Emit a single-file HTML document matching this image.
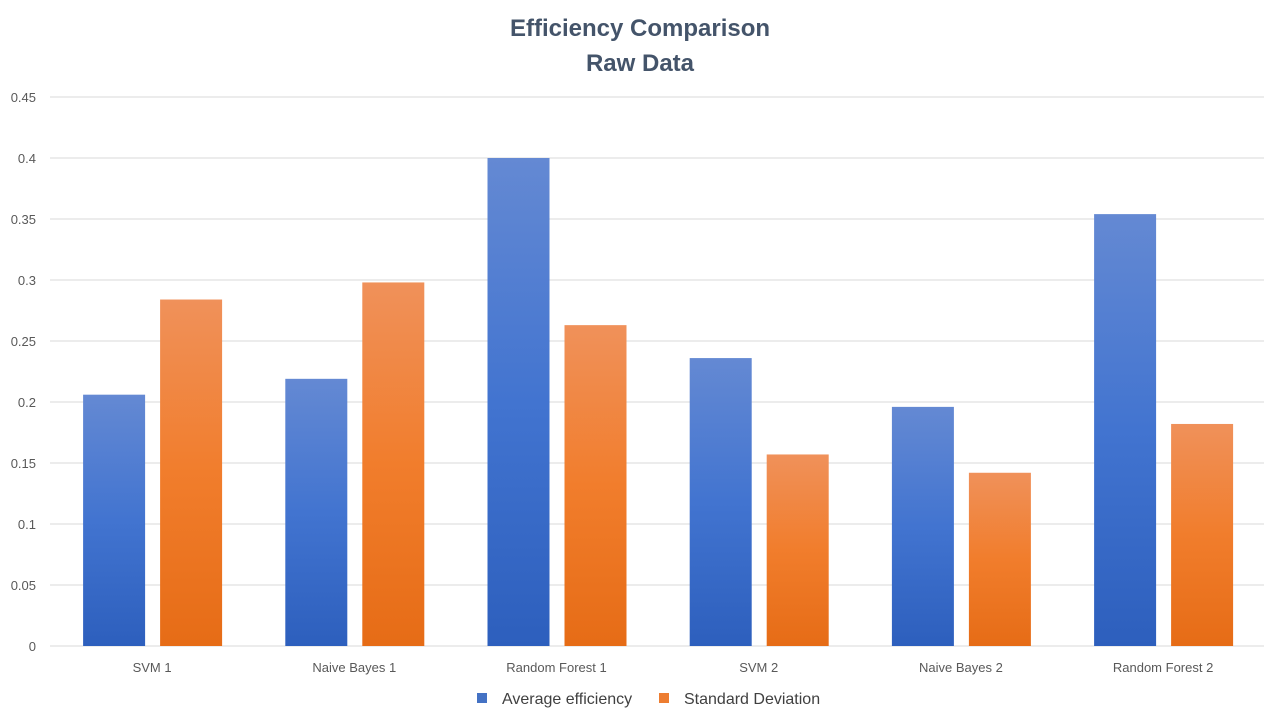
<!DOCTYPE html>
<html><head><meta charset="utf-8"><style>
body{margin:0;background:#fff;}
svg{display:block;font-family:"Liberation Sans",sans-serif;}
</style></head><body>
<svg id="c" width="1280" height="720">
<defs>
<linearGradient id="gb" x1="0" y1="0" x2="0" y2="1"><stop offset="0" stop-color="#6489d3"/><stop offset="0.5" stop-color="#4274d0"/><stop offset="1" stop-color="#2d5fbd"/></linearGradient>
<linearGradient id="go" x1="0" y1="0" x2="0" y2="1"><stop offset="0" stop-color="#f0915a"/><stop offset="0.5" stop-color="#f17d2c"/><stop offset="1" stop-color="#e66c16"/></linearGradient>
</defs>
<text x="640" y="36" text-anchor="middle" font-size="24" font-weight="bold" fill="#44546a">Efficiency Comparison</text>
<text x="640" y="71" text-anchor="middle" font-size="24" font-weight="bold" fill="#44546a">Raw Data</text>
<g id="grid"></g><g id="bars"></g><g id="xl"></g>
<rect x="477" y="693" width="10" height="10" fill="#4472c4"/>
<text x="502" y="704" font-size="16" fill="#404040">Average efficiency</text>
<rect x="659" y="693" width="10" height="10" fill="#ed7d31"/>
<text x="684" y="704" font-size="16" fill="#404040">Standard Deviation</text>
</svg>
<script>
const categories=["SVM 1","Naive Bayes 1","Random Forest 1","SVM 2","Naive Bayes 2","Random Forest 2"];
const avgEfficiency=[0.206,0.219,0.400,0.236,0.196,0.354];
const stdDeviation=[0.284,0.298,0.263,0.157,0.142,0.182];
const yTicks=[0,0.05,0.1,0.15,0.2,0.25,0.3,0.35,0.4,0.45];
const ns="http://www.w3.org/2000/svg";
const x0=48,x1=1264,yB=646,yT=97,yMax=0.45;
const y=v=>yB-(v/yMax)*(yB-yT);
const bw=202.2;
function mk(t,a,p){const e=document.createElementNS(ns,t);for(const k in a)e.setAttribute(k,a[k]);p.appendChild(e);return e;}
const g=document.getElementById('grid');
yTicks.forEach(v=>{
 const l=mk('line',{x1:50,x2:x1,y1:y(v),y2:y(v),stroke:'#d9d9d9','stroke-width':1},g);
 
 
 const t=mk('text',{x:36,y:y(v)+5,'text-anchor':'end','font-size':13,fill:'#595959'},g);
 t.textContent=String(v);
 
 
});
const b=document.getElementById('bars'),xl=document.getElementById('xl');
categories.forEach((c,i)=>{
 const cx=x0+bw*(i+0.5);
 const r1=mk('rect',{x:cx-66,y:y(avgEfficiency[i]),width:62,height:yB-y(avgEfficiency[i]),fill:'url(#gb)'},b);
 
 
 const r2=mk('rect',{x:cx+11,y:y(stdDeviation[i]),width:62,height:yB-y(stdDeviation[i]),fill:'url(#go)'},b);
 
 
 const t=mk('text',{x:cx+3,y:672,'text-anchor':'middle','font-size':13,fill:'#595959'},xl);
 t.textContent=c;
 
 
});
</script>
</body></html>
